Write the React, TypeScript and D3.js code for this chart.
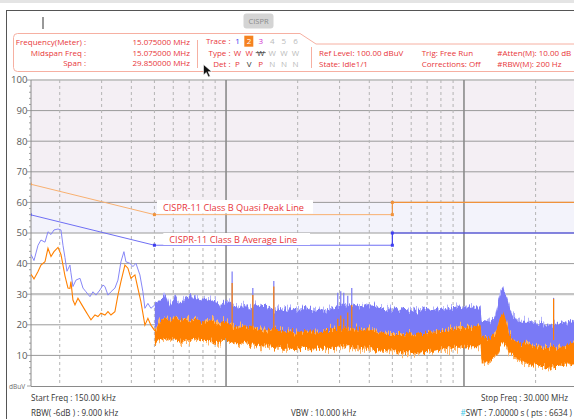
import React from "react";
import * as d3 from "d3";

// ---- limit lines (MHz, dBuV) ----
const limitFreqs = [0.15, 0.5, 5, 5, 30];
const qpLimit = [66, 56, 56, 60, 60];
const avgLimit = [56, 46, 46, 50, 50];

// ---- axis ticks ----
const yTickValues = [10, 20, 30, 40, 50, 60, 70, 80, 90, 100];
const decadeFreqs = [1, 10];
const subFreqs = [0.2, 0.3, 0.4, 0.5, 0.6, 0.7, 0.8, 0.9, 2, 3, 4, 5, 6, 7, 8, 9, 20];

// ---- peak trace (trace 1), low-frequency part ----
const peakLowF = [0.1515, 0.1559, 0.1621, 0.1668, 0.1734, 0.1785, 0.1838, 0.1892, 0.1967, 0.2024, 0.2064, 0.2104, 0.2145, 0.2208, 0.2229, 0.2273, 0.234, 0.2433, 0.2505, 0.2578, 0.268, 0.2759, 0.284, 0.2952, 0.3039, 0.3098, 0.319, 0.3283, 0.3412, 0.3513, 0.3616, 0.3722, 0.3795, 0.3945, 0.4061, 0.4181, 0.4345, 0.4473, 0.456, 0.4695, 0.4833, 0.5023];
const peakLowV = [43, 41, 46, 47.7, 47, 50.4, 49.5, 51, 51.3, 51, 46, 42, 37.5, 39.5, 37, 32.5, 34.6, 35.2, 32, 30.8, 29.2, 30.8, 29.7, 31.4, 33, 32.5, 29.7, 30.8, 32, 34.6, 40.6, 43.9, 40.6, 40.1, 39, 40.1, 36.3, 30.8, 25.4, 27, 25.4, 26.5];

// ---- average trace (trace 2), low-frequency part ----
const avgLowF = [0.1515, 0.1559, 0.1621, 0.1668, 0.1734, 0.1785, 0.1838, 0.1892, 0.1967, 0.2024, 0.2064, 0.2104, 0.2166, 0.2208, 0.2229, 0.2273, 0.2318, 0.2386, 0.2457, 0.2554, 0.2629, 0.2706, 0.2813, 0.2895, 0.2981, 0.3098, 0.319, 0.3283, 0.3412, 0.3513, 0.3616, 0.3758, 0.3869, 0.3983, 0.4141, 0.4262, 0.4387, 0.456, 0.4695, 0.4833, 0.5023];
const avgLowV = [36.5, 35, 37.4, 39.5, 40.6, 45, 42.3, 43.9, 45.3, 43, 39.5, 36, 32, 31.9, 34.1, 28.1, 26.5, 28.7, 27, 24.8, 23.2, 21.6, 23.2, 22.7, 23.8, 23.2, 24.3, 23.2, 24.3, 29.7, 34.1, 39.5, 38.5, 35.2, 36.3, 31.9, 27.6, 19.9, 22.1, 19.9, 18];

// ---- dense part: envelope of each trace (MHz, dBuV) ----
const bandF = [0.5023, 0.5272, 0.5533, 0.5808, 0.6096, 0.6397, 0.6714, 0.7047, 0.7396, 0.7762, 0.8147, 0.855, 0.8974, 0.9418, 0.9885, 1.0374, 1.0888, 1.1428, 1.1994, 1.2588, 1.3212, 1.3866, 1.4553, 1.5274, 1.6031, 1.6825, 1.7659, 1.8533, 1.9452, 2.0415, 2.1427, 2.2488, 2.3603, 2.4771, 2.5999, 2.7286, 2.8638, 3.0056, 3.1545, 3.3108, 3.4748, 3.6469, 3.8276, 4.0172, 4.2162, 4.4251, 4.6443, 4.8743, 5.1158, 5.3692, 5.6352, 5.9144, 6.2074, 6.5149, 6.8376, 7.1763, 7.5318, 7.9049, 8.2966, 8.7075, 9.1389, 9.5916, 10.067, 10.565, 11.089, 11.638, 11.75, 11.85, 12.215, 12.82, 13.455, 13.8, 14.121, 14.6, 15.1, 15.555, 16.1, 17.134, 17.983, 18.874, 19.809, 20.79, 21.82, 22.901, 24.036, 25.226, 26.476, 27.787, 29.164, 30];
const peakHi = [26.5, 28, 30, 26, 29, 27, 28.5, 29, 29, 28, 28.5, 28, 27.5, 26, 28, 27, 26, 25.5, 26.5, 25, 26.5, 25.5, 26, 25.5, 25, 25.5, 25, 25.5, 24.5, 25, 25.5, 25, 24.5, 25, 24.5, 25, 25.5, 26, 26.5, 26, 26.5, 26, 26.5, 26, 26, 25.5, 25.5, 25, 25, 24.5, 25, 24.5, 25, 24.5, 25, 25, 25, 25.5, 25, 25.5, 25.5, 26, 25.5, 26, 25.5, 26, 26, 21, 21.5, 21, 22.5, 25.4, 29.7, 31.5, 29, 25.4, 22.5, 21, 21, 21, 20.5, 20.5, 20, 20, 20, 20, 20.5, 21, 22, 22.5];
const peakLo = [22, 22.5, 23, 22.5, 23, 22, 22.5, 23, 22.5, 22, 22.5, 22, 21.5, 21.5, 22, 21.5, 21, 21, 21, 20.5, 21, 20.5, 20.5, 20.5, 20, 20.5, 20, 20, 20, 20, 20, 20, 19.5, 20, 19.5, 20, 20.5, 20.5, 21, 21, 21, 21, 21, 20.5, 20.5, 20.5, 20, 20, 19.5, 19.5, 19.5, 19.5, 19.5, 19.5, 20, 20, 20, 20, 20, 20.5, 20.5, 20.5, 20.5, 21, 21, 21, 21, 16, 16, 16.5, 17, 19, 21, 23, 21.5, 19, 17, 16, 16, 16, 15.5, 15.5, 15, 15, 15, 15, 15, 15.5, 16, 16];
const avgHi = [18, 21, 22.5, 21, 23, 21.5, 22, 21, 22, 21.5, 21, 21.5, 21, 20.5, 21, 20, 19.5, 19, 19.5, 19, 19, 18.5, 18.5, 18, 18.5, 18, 17.5, 18, 17.5, 17.5, 18, 17.5, 17.5, 17.5, 18, 18, 18.5, 19, 19, 18.5, 18.5, 18.5, 18.5, 18.5, 18, 17.5, 17.5, 17, 17, 17, 16.5, 17, 16.5, 17, 17, 17.5, 17.5, 18, 18, 18.5, 18.5, 19, 19, 19, 19.5, 19.5, 19.5, 15.5, 16, 15.5, 17, 18.8, 22, 24, 21, 16.7, 15, 14, 14, 13.5, 13, 13, 12.5, 12.5, 12.5, 12.5, 13, 13.5, 14, 14];
const avgLo = [14, 15, 15.5, 15, 15.5, 14.5, 15, 15, 15.5, 15, 14.5, 15, 14.5, 14.5, 15, 14.5, 14, 14, 14.5, 13.5, 13.5, 13, 13, 13.5, 12.5, 12.5, 12.5, 12.5, 12, 12, 12.5, 12, 12, 12.5, 12.5, 12, 12.5, 13, 13, 13, 13, 12.5, 12.5, 12.5, 12, 11.5, 11.5, 11, 11, 11, 11, 11, 10.5, 11, 11, 11.5, 11.5, 12, 12, 12, 12.5, 12.5, 12.5, 13, 13, 13, 13, 8, 8, 8, 9, 10, 12.5, 14.5, 13, 11, 9.5, 8.5, 7.5, 7, 7, 6.5, 6.5, 6, 6.5, 6.5, 7, 7, 7.5, 7.5];

// ---- narrow spikes (MHz, peak top, average top) ----
const spikeF = [1.0607, 1.2959, 1.5877, 2.948, 3.035, 3.124, 3.2475, 3.376, 23.8];
const spikePeak = [37.4, 32, 34.3, 30.5, 31, 30.5, 29.5, 32, 28.8];
const spikeAvg = [33.7, 29.7, 32.5, 22, 23, 22, 24, 26.5, 28.5];

// ---- texts ----
const leftLabels = ["Frequency(Meter) :", "Midspan Freq :", "Span :"];
const leftValues = ["15.075000 MHz", "15.075000 MHz", "29.850000 MHz"];
const traceNums = ["1", "2", "3", "4", "5", "6"];
const traceNumColors = ["#3b3bf0", "#ffffff", "#d030d0", "#bbbbbb", "#bbbbbb", "#bbbbbb"];
const typeColors = ["#e8363a", "#e8363a", "#444444", "#bbbbbb", "#bbbbbb", "#bbbbbb"];
const detLetters = ["P", "V", "P", "N", "N", "N"];
const detColors = ["#e8363a", "#333333", "#e8363a", "#bbbbbb", "#bbbbbb", "#bbbbbb"];

const RED = "#e8363a";
const FONT = "'Open Sans', 'Noto Sans', sans-serif";

export default function App() {
  const x = d3.scaleLog().domain([0.15, 30]).range([30, 577.5]);
  const y = d3.scaleLinear().domain([0, 100]).range([386, 80]);
  const left = 31;
  const right = 578;

  const line = d3
    .line<[number, number]>()
    .x((d) => x(d[0]))
    .y((d) => y(d[1]));

  const band = (hi: number[], lo: number[]) =>
    d3
      .area<number>()
      .x((_, i) => x(bandF[i]))
      .y0((_, i) => y(lo[i]))
      .y1((_, i) => y(hi[i]))(bandF.map((_, i) => i)) || "";

  // the blue band's lower edge is hidden behind the orange trace
  const peakLoHidden = peakLo.map((v, i) => Math.min(v, avgHi[i] - 1.5));

  const peakLowPts = peakLowF.map((f, i) => [f, peakLowV[i]] as [number, number]);
  const avgLowPts = avgLowF.map((f, i) => [f, avgLowV[i]] as [number, number]);
  const qpPts = limitFreqs.map((f, i) => [f, qpLimit[i]] as [number, number]);
  const avPts = limitFreqs.map((f, i) => [f, avgLimit[i]] as [number, number]);

  const minorY = d3.range(0, 101, 2);
  const colX = (i: number) => 237.5 + i * 11.6;

  return (
    <svg
      width={574}
      height={419}
      style={{ position: "absolute", left: 0, top: 0, background: "#fff" }}
      fontFamily={FONT}
    >
      <defs>
        <clipPath id="plotClip">
          <rect x={left} y={79} width={right - left} height={307} />
        </clipPath>
        <filter id="jagWide" x="-2%" y="-40%" width="104%" height="180%">
          <feTurbulence type="fractalNoise" baseFrequency="0.85 0.03" numOctaves={2} seed={7} result="t" />
          <feColorMatrix in="t" type="matrix" values="0 0 0 0 0.5  0 1 0 0 0  0 0 0 0 0  0 0 0 0 1" result="m" />
          <feDisplacementMap in="SourceGraphic" in2="m" scale={22} xChannelSelector="R" yChannelSelector="G" />
        </filter>
        <filter id="jagCore" x="-2%" y="-40%" width="104%" height="180%">
          <feTurbulence type="fractalNoise" baseFrequency="0.7 0.05" numOctaves={2} seed={3} result="t" />
          <feColorMatrix in="t" type="matrix" values="0 0 0 0 0.5  0 1 0 0 0  0 0 0 0 0  0 0 0 0 1" result="m" />
          <feDisplacementMap in="SourceGraphic" in2="m" scale={12} xChannelSelector="R" yChannelSelector="G" />
        </filter>
      </defs>

      <rect x={0} y={0} width={574} height={419} fill="#fff" />
      <rect x={0} y={0} width={574} height={3} fill="#e4e4e4" />
      <line x1={6} x2={574} y1={10.5} y2={10.5} stroke="#555" strokeWidth={1} />
      <line x1={6.5} x2={6.5} y1={10} y2={419} stroke="#555" strokeWidth={1} />

      {/* text cursor */}
      <line x1={43} x2={43} y1={17} y2={29} stroke="#333" strokeWidth={1} />

      {/* CISPR tab */}
      <rect x={243.5} y={13.5} width={30} height={15} rx={3} fill="#d4d4d4" />
      <text x={258.5} y={24} fontSize={7.5} fill="#8a8a8a" textAnchor="middle">CISPR</text>

      {/* info box */}
      <path
        d="M13.5 37.5 Q13.5 33.5 17.5 33.5 H300 L316 44 H580 M13.5 37.5 V67.5 Q13.5 71.5 17.5 71.5 H580"
        fill="none"
        stroke="#f6b0a2"
        strokeWidth={1}
      />
      <line x1={197.5} x2={197.5} y1={40} y2={68} stroke="#f6b0a2" />
      <line x1={311.5} x2={311.5} y1={47} y2={68} stroke="#f6b0a2" />

      {leftLabels.map((t, i) => (
        <text key={t} x={86} y={45 + i * 10.6} fontSize={8} fill={RED} textAnchor="end">{t}</text>
      ))}
      {leftValues.map((t, i) => (
        <text key={i} x={190} y={45 + i * 10.6} fontSize={8} fill={RED} textAnchor="end">{t}</text>
      ))}

      <text x={230.5} y={44.3} fontSize={8} fill={RED} textAnchor="end">Trace :</text>
      <text x={230.5} y={55.7} fontSize={8} fill={RED} textAnchor="end">Type :</text>
      <text x={230.5} y={66.8} fontSize={8} fill={RED} textAnchor="end">Det :</text>
      <rect x={244.3} y={35.7} width={9} height={11} fill="#f5821f" />
      {traceNums.map((t, i) => (
        <text key={"n" + i} x={colX(i)} y={44.3} fontSize={8} fill={traceNumColors[i]} textAnchor="middle">{t}</text>
      ))}
      {traceNums.map((_, i) => (
        <text key={"t" + i} x={colX(i)} y={55.7} fontSize={8} fill={typeColors[i]} textAnchor="middle">W</text>
      ))}
      <line x1={colX(2) - 5} x2={colX(2) + 5} y1={52.6} y2={52.6} stroke="#444" strokeWidth={0.8} />
      {detLetters.map((t, i) => (
        <text key={"d" + i} x={colX(i)} y={66.8} fontSize={8} fill={detColors[i]} textAnchor="middle">{t}</text>
      ))}

      <text x={319} y={55.7} fontSize={8} fill={RED}>Ref Level: 100.00 dBuV</text>
      <text x={319} y={66.8} fontSize={8} fill={RED}>State: Idle1/1</text>
      <text x={421.7} y={55.7} fontSize={8} fill={RED}>Trig: Free Run</text>
      <text x={421.7} y={66.8} fontSize={8} fill={RED}>Corrections: Off</text>
      <text x={497.3} y={55.7} fontSize={8} fill={RED}>#Atten(M): 10.00 dB</text>
      <text x={497.3} y={66.8} fontSize={8} fill={RED}>#RBW(M): 200 Hz</text>

      {/* mouse pointer */}
      <path
        d="M203.5 64.5 L203.5 75 L206.3 72.4 L208.4 77 L210.2 76.2 L208.1 71.7 L211.8 71.7 Z"
        fill="#111"
        stroke="#fff"
        strokeWidth={0.6}
      />

      {/* plot background bands */}
      <rect x={left} y={y(100)} width={right - left} height={y(60) - y(100)} fill="#f4eff4" />
      <rect x={left} y={y(60)} width={right - left} height={y(50) - y(60)} fill="#f3f3fb" />

      {/* horizontal grid */}
      {yTickValues.map((v) => (
        <line
          key={"h" + v}
          x1={left}
          x2={right}
          y1={y(v)}
          y2={y(v)}
          stroke={v === 30 ? "#c4c4c4" : v === 100 ? "#c8c8c8" : "#9a9a9a"}
          strokeWidth={v === 30 || v === 100 ? 2.2 : 1}
        />
      ))}

      {/* vertical grid */}
      {subFreqs.map((f) => (
        <line
          key={"v" + f}
          x1={x(f)}
          x2={x(f)}
          y1={y(100)}
          y2={y(0)}
          stroke="#b4b4b4"
          strokeWidth={1}
          strokeDasharray="3,3"
        />
      ))}
      {decadeFreqs.map((f) => (
        <line key={"D" + f} x1={x(f)} x2={x(f)} y1={y(100)} y2={y(0)} stroke="#8a8a8a" strokeWidth={1.6} />
      ))}

      {/* axes */}
      <line x1={left} x2={left} y1={y(100)} y2={y(0)} stroke="#8a8a8a" strokeWidth={1} />
      <line x1={left} x2={right} y1={y(0) + 0.5} y2={y(0) + 0.5} stroke="#8a8a8a" strokeWidth={1} />
      {minorY.map((v) => (
        <line
          key={"m" + v}
          x1={v % 10 === 0 ? left - 4 : left - 2}
          x2={left}
          y1={y(v)}
          y2={y(v)}
          stroke="#8a8a8a"
          strokeWidth={0.8}
        />
      ))}
      {yTickValues.map((v) => (
        <text key={"l" + v} x={27.5} y={y(v)} dy="0.36em" fontSize={9.6} fill="#5a5a5a" textAnchor="end">
          {v}
        </text>
      ))}
      <text x={9} y={389} fontSize={6.5} fill="#6a6a6a">dBuV</text>

      <g clipPath="url(#plotClip)">
        {/* peak trace */}
        <path d={band(peakHi, peakLoHidden)} fill="#b3b3fb" filter="url(#jagWide)" />
        <path d={band(peakHi, peakLoHidden)} fill="#7a7af6" filter="url(#jagCore)" />
        <path d={line(peakLowPts) || ""} fill="none" stroke="#8787f7" strokeWidth={1} />
        {spikeF.map((f, i) => (
          <line key={"sp" + i} x1={x(f)} x2={x(f)} y1={y(spikePeak[i])} y2={y(20)} stroke="#7a7af5" strokeWidth={1.2} />
        ))}
        {/* average trace */}
        <path d={band(avgHi, avgLo)} fill="#ffb466" filter="url(#jagWide)" />
        <path d={band(avgHi, avgLo)} fill="#ff8000" filter="url(#jagCore)" />
        <path d={line(avgLowPts) || ""} fill="none" stroke="#ff8000" strokeWidth={1.1} />
        {spikeF.map((f, i) => (
          <line key={"sa" + i} x1={x(f)} x2={x(f)} y1={y(spikeAvg[i])} y2={y(15)} stroke="#ff8000" strokeWidth={1.2} />
        ))}

        {/* limit lines */}
        <path d={line(qpPts.slice(0, 3)) || ""} fill="none" stroke="#f8b070" strokeWidth={1} />
        <path d={line(qpPts.slice(2)) || ""} fill="none" stroke="#f0923a" strokeWidth={1.2} />
        <path d={line(avPts.slice(0, 3)) || ""} fill="none" stroke="#6f6ff4" strokeWidth={1} />
        <path d={line(avPts.slice(2)) || ""} fill="none" stroke="#3d3df0" strokeWidth={1.2} />
        {qpPts.map((p, i) => (
          <rect key={"qm" + i} x={x(p[0]) - 1.5} y={y(p[1]) - 1.5} width={3} height={3} fill="#f0923a" />
        ))}
        {avPts.map((p, i) => (
          <rect key={"am" + i} x={x(p[0]) - 1.5} y={y(p[1]) - 1.5} width={3} height={3} fill="#3d3df0" />
        ))}
      </g>

      {/* limit labels */}
      <rect x={157} y={200} width={156} height={13.5} fill="#fff" />
      <text x={163} y={210.5} fontSize={9.2} fill={RED}>CISPR-11 Class B Quasi Peak Line</text>
      <rect x={163.3} y={233} width={146.7} height={12} fill="#fff" />
      <text x={169.3} y={242.6} fontSize={9.2} fill={RED}>CISPR-11 Class B Average Line</text>

      {/* bottom info */}
      <text x={31} y={401} fontSize={8.1} fill="#333">Start Freq : 150.00 kHz</text>
      <text x={31} y={416} fontSize={8.1} fill="#333">RBW( -6dB ) : 9.000 kHz</text>
      <text x={291} y={416} fontSize={8.1} fill="#333">VBW : 10.000 kHz</text>
      <text x={568} y={401} fontSize={8.1} fill="#333" textAnchor="end">Stop Freq : 30.000 MHz</text>
      <text x={572} y={416} fontSize={8.1} fill="#333" textAnchor="end">
        <tspan fill="#3cc8e8">#</tspan>SWT : 7.00000 s ( pts : 6634 )
      </text>
    </svg>
  );
}
